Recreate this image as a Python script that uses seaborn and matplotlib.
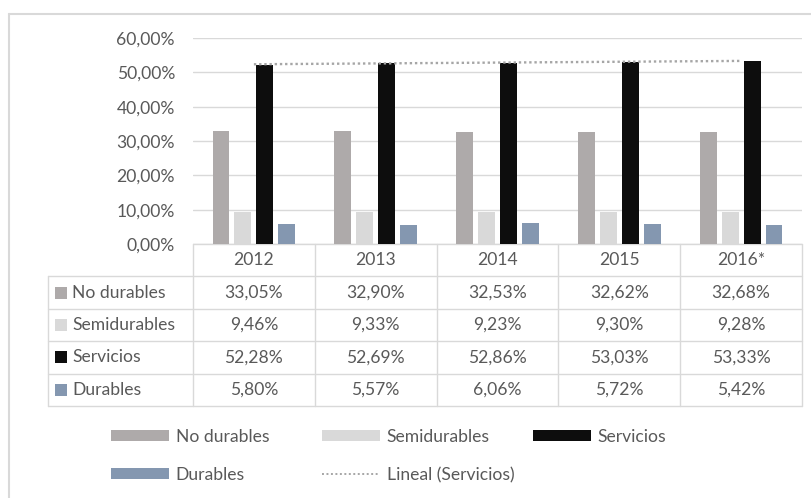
import matplotlib

matplotlib.use("Agg")

import matplotlib.pyplot as plt
import matplotlib.transforms as mtransforms
import numpy as np
import pandas as pd
import seaborn as sns
from matplotlib.lines import Line2D
from matplotlib.patches import Patch


YEARS = ["2012", "2013", "2014", "2015", "2016*"]
SERIES = ["No durables", "Semidurables", "Servicios", "Durables"]
NO_DURABLES = [33.05, 32.90, 32.53, 32.62, 32.68]
SEMIDURABLES = [9.46, 9.33, 9.23, 9.30, 9.28]
SERVICIOS = [52.28, 52.69, 52.86, 53.03, 53.33]
DURABLES = [5.80, 5.57, 6.06, 5.72, 5.42]
Y_TICKS = [0, 10, 20, 30, 40, 50, 60]
TREND_LABEL = "Lineal (Servicios)"

COLORS = ["#AEAAAA", "#D9D9D9", "#0D0D0D", "#8497B0"]
TEXT_COLOR = "#595959"
LINE_COLOR = "#D9D9D9"
TREND_COLOR = "#A6A6A6"

# layout in pixels of the 812x498 canvas
FIG_W, FIG_H = 812, 498
AX_LEFT, AX_RIGHT, AX_TOP, AX_BOTTOM = 193, 802, 38, 244
ROW_PX = 32.4
TABLE_LEFT_PX = 48
FONT_SIZE = 12.6


def pct(value: float) -> str:
    return f"{value:.2f}%".replace(".", ",")


def fx(px: float) -> float:
    return px / FIG_W


def fy(px: float) -> float:
    return 1 - px / FIG_H


def main() -> None:
    sns.set_theme(style="white")
    plt.rcParams["font.family"] = ["Lato", "DejaVu Sans"]

    wide = pd.DataFrame(
        {
            "year": YEARS,
            "No durables": NO_DURABLES,
            "Semidurables": SEMIDURABLES,
            "Servicios": SERVICIOS,
            "Durables": DURABLES,
        }
    )
    long = wide.melt(id_vars="year", var_name="serie", value_name="valor")

    fig = plt.figure(figsize=(FIG_W / 100, FIG_H / 100), dpi=100)
    ax = fig.add_axes(
        [fx(AX_LEFT), fy(AX_BOTTOM), (AX_RIGHT - AX_LEFT) / FIG_W, (AX_BOTTOM - AX_TOP) / FIG_H]
    )

    sns.barplot(
        data=long,
        x="year",
        y="valor",
        hue="serie",
        order=YEARS,
        hue_order=SERIES,
        palette=COLORS,
        saturation=1,
        width=0.72,
        gap=0.23,
        linewidth=0,
        legend=False,
        zorder=3,
        ax=ax,
    )

    # linear trend of Servicios
    x = np.arange(len(YEARS))
    coef = np.polyfit(x, SERVICIOS, 1)
    ax.plot(
        x,
        np.polyval(coef, x),
        color=TREND_COLOR,
        lw=1.7,
        ls=(0, (1, 1.2)),
        dash_capstyle="butt",
        zorder=4,
    )

    ax.set_xlim(-0.5, len(YEARS) - 0.5)
    ax.set_ylim(Y_TICKS[0], Y_TICKS[-1])
    ax.set_yticks(Y_TICKS)
    ax.set_yticklabels([pct(v) for v in Y_TICKS], color=TEXT_COLOR, fontsize=FONT_SIZE)
    ax.set_xticks([])
    ax.set_xlabel("")
    ax.set_ylabel("")
    ax.tick_params(axis="y", length=0, pad=13)
    ax.yaxis.grid(True, color=LINE_COLOR, lw=1)
    ax.set_axisbelow(True)
    for spine in ax.spines.values():
        spine.set_visible(False)

    # data table under the axes
    trans = mtransforms.blended_transform_factory(ax.transData, ax.transAxes)
    row_h = ROW_PX / (AX_BOTTOM - AX_TOP)
    col_w = (AX_RIGHT - AX_LEFT) / len(YEARS)
    label_left = -0.5 - (AX_LEFT - TABLE_LEFT_PX) / col_w
    n_rows = len(SERIES)
    line_kw = dict(color=LINE_COLOR, lw=1, transform=trans, clip_on=False, zorder=2)

    ax.add_line(Line2D([-0.5, len(YEARS) - 0.5], [0, 0], **line_kw))
    for k in range(1, n_rows + 2):
        ax.add_line(Line2D([label_left, len(YEARS) - 0.5], [-k * row_h] * 2, **line_kw))
    for i in range(len(YEARS) + 1):
        ax.add_line(Line2D([i - 0.5] * 2, [0, -(n_rows + 1) * row_h], **line_kw))
    ax.add_line(Line2D([label_left] * 2, [-row_h, -(n_rows + 1) * row_h], **line_kw))

    for i, year in enumerate(YEARS):
        ax.text(i, -0.5 * row_h, year, transform=trans, ha="center", va="center",
                color=TEXT_COLOR, fontsize=FONT_SIZE)

    rows = [NO_DURABLES, SEMIDURABLES, SERVICIOS, DURABLES]
    for r, (name, values, color) in enumerate(zip(SERIES, rows, COLORS)):
        y = -(r + 1.5) * row_h
        ax.plot([label_left + 13 / col_w], [y], marker="s", ms=8, mew=0, color=color,
                transform=trans, clip_on=False)
        ax.text(label_left + 24 / col_w, y, name, transform=trans, ha="left", va="center",
                color=TEXT_COLOR, fontsize=FONT_SIZE)
        for i, v in enumerate(values):
            ax.text(i, y, pct(v), transform=trans, ha="center", va="center",
                    color=TEXT_COLOR, fontsize=FONT_SIZE)

    # legend, laid out like the Excel one
    handles = [Patch(facecolor=c, edgecolor="none") for c in COLORS]
    handles.append(Line2D([], [], color=TREND_COLOR, lw=1.4, ls=(0, (1, 1.3))))
    labels = SERIES + [TREND_LABEL]
    spots = [(111, 437), (322, 437), (533, 437), (111, 475), (322, 475)]
    for handle, label, (px, py) in zip(handles, labels, spots):
        fig.legend(
            handles=[handle],
            labels=[label],
            loc="center left",
            bbox_to_anchor=(fx(px), fy(py)),
            frameon=False,
            borderpad=0,
            borderaxespad=0,
            handlelength=3.3,
            handleheight=0.58,
            handletextpad=0.4,
            fontsize=FONT_SIZE,
            labelcolor=TEXT_COLOR,
        )

    # chart area border (top and left edges only are in view)
    border_kw = dict(color=LINE_COLOR, lw=1.5, transform=fig.transFigure)
    fig.add_artist(Line2D([fx(9), 1], [fy(14), fy(14)], **border_kw))
    fig.add_artist(Line2D([fx(9), fx(9)], [fy(14), 0], **border_kw))

    fig.savefig("out.png", dpi=100)
    plt.close(fig)


if __name__ == "__main__":
    main()
